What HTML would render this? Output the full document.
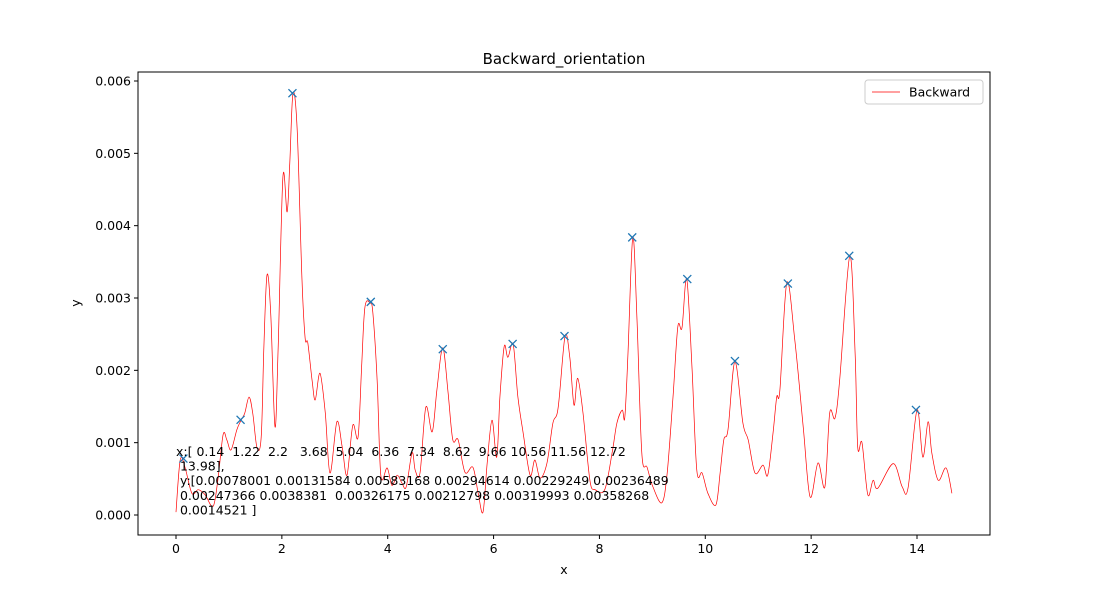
<!DOCTYPE html>
<html><head><meta charset="utf-8"><style>
body{margin:0;background:#fff;}
svg text{font-family:"DejaVu Sans","Liberation Sans",sans-serif;}
</style></head><body>
<svg id="chart" width="1100" height="600" xmlns="http://www.w3.org/2000/svg">
<rect x="0" y="0" width="1100" height="600" fill="#fff"/>
<g id="plot"></g>
</svg>
<script>
const lineX=[0.00,0.08,0.17,0.30,0.42,0.55,0.70,0.79,0.89,0.96,1.04,1.15,1.23,1.30,1.38,1.45,1.53,1.61,1.66,1.72,1.79,1.87,1.93,2.02,2.10,2.15,2.21,2.29,2.38,2.44,2.49,2.57,2.63,2.72,2.82,2.91,3.04,3.14,3.23,3.34,3.44,3.51,3.57,3.67,3.72,3.80,3.87,3.99,4.08,4.18,4.27,4.35,4.46,4.52,4.61,4.72,4.84,4.93,5.04,5.14,5.23,5.33,5.46,5.61,5.71,5.80,5.88,5.97,6.06,6.12,6.20,6.27,6.37,6.46,6.56,6.69,6.78,6.88,7.01,7.12,7.22,7.35,7.44,7.52,7.59,7.69,7.82,7.92,8.10,8.24,8.33,8.43,8.48,8.54,8.63,8.71,8.80,8.90,9.01,9.18,9.28,9.39,9.48,9.56,9.65,9.75,9.84,9.94,10.05,10.20,10.28,10.35,10.43,10.56,10.71,10.81,10.94,11.09,11.18,11.28,11.35,11.41,11.54,11.69,11.85,11.98,12.13,12.26,12.35,12.45,12.54,12.73,12.83,12.88,12.96,13.07,13.17,13.26,13.55,13.72,13.83,14.00,14.11,14.21,14.28,14.40,14.55,14.66];
const lineY=[0.04,0.76,0.66,0.30,0.35,0.28,0.12,0.48,1.11,1.04,0.90,1.18,1.31,1.41,1.63,1.41,0.93,1.08,2.33,3.32,2.79,1.22,2.33,4.67,4.19,4.87,5.83,5.32,3.25,2.45,2.38,1.87,1.59,1.96,1.41,0.58,1.29,0.94,0.55,1.24,1.08,2.10,2.88,2.93,2.79,1.87,0.55,0.65,0.41,0.55,0.44,0.39,0.86,0.62,0.58,1.49,1.15,1.73,2.31,1.69,1.04,1.04,0.59,0.66,0.30,0.04,0.72,1.31,0.80,1.63,2.33,2.18,2.36,1.63,1.13,0.55,0.76,0.51,0.72,1.27,1.48,2.47,2.18,1.52,1.89,1.41,0.48,0.35,0.35,0.86,1.27,1.45,1.35,2.24,3.84,2.70,0.86,0.66,0.39,0.17,0.58,1.63,2.60,2.59,3.26,2.01,0.62,0.58,0.30,0.14,0.58,1.04,1.18,2.12,1.27,1.04,0.58,0.69,0.55,1.13,1.63,1.73,3.21,2.43,1.22,0.25,0.72,0.39,1.41,1.34,1.87,3.58,2.24,0.94,1.00,0.28,0.48,0.37,0.71,0.39,0.37,1.45,0.80,1.29,0.86,0.48,0.65,0.30];
const peakX=[0.14,1.22,2.2,3.68,5.04,6.36,7.34,8.62,9.66,10.56,11.56,12.72,13.98];
const peakY=[0.00078001,0.00131584,0.00583168,0.00294614,0.00229249,0.00236489,0.00247366,0.0038381,0.00326175,0.00212798,0.00319993,0.00358268,0.0014521];
const xTicks=[0,2,4,6,8,10,12,14];
const yTicks=[0,0.001,0.002,0.003,0.004,0.005,0.006];
const yTickLabels=["0.000","0.001","0.002","0.003","0.004","0.005","0.006"];
const annotation=["x:[ 0.14  1.22  2.2   3.68  5.04  6.36  7.34  8.62  9.66 10.56 11.56 12.72"," 13.98],"," y:[0.00078001 0.00131584 0.00583168 0.00294614 0.00229249 0.00236489"," 0.00247366 0.0038381  0.00326175 0.00212798 0.00319993 0.00358268"," 0.0014521 ]"];

const L=138,R=990,T=72,B=535;
const sx=v=>176+v*(917-176)/14;
const sy=v=>515-v*(515-81)/0.006;
const NS="http://www.w3.org/2000/svg";
const g=document.getElementById('plot');
function mk(tag,attrs,parent){const e=document.createElementNS(NS,tag);for(const k in attrs)e.setAttribute(k,attrs[k]);(parent||g).appendChild(e);return e;}

// smooth line (Catmull-Rom)
const P=lineX.map((x,i)=>[sx(x),sy(lineY[i]*0.001)]);
let d='M'+P[0][0].toFixed(1)+','+P[0][1].toFixed(1);
for(let i=0;i<P.length-1;i++){
 const p0=P[Math.max(0,i-1)],p1=P[i],p2=P[i+1],p3=P[Math.min(P.length-1,i+2)];
 const c1=[p1[0]+(p2[0]-p0[0])/6,p1[1]+(p2[1]-p0[1])/6];
 const c2=[p2[0]-(p3[0]-p1[0])/6,p2[1]-(p3[1]-p1[1])/6];
 d+=` C${c1[0].toFixed(1)},${c1[1].toFixed(1)} ${c2[0].toFixed(1)},${c2[1].toFixed(1)} ${p2[0].toFixed(1)},${p2[1].toFixed(1)}`;
}
const ln=mk('path',{d:d,fill:'none',stroke:'red','stroke-width':0.7});



// markers
peakX.forEach((x,i)=>{const cx=sx(x),cy=sy(peakY[i]);
 const m=mk('path',{d:`M${cx-4},${cy-4}L${cx+4},${cy+4}M${cx-4},${cy+4}L${cx+4},${cy-4}`,stroke:'#1f77b4','stroke-width':1.3});
 
 
});

// annotation
annotation.forEach((t,i)=>{const e=mk('text',{x:176,y:456+i*14.6,'font-size':12.5,'xml:space':'preserve'});e.style.whiteSpace='pre';e.textContent=t;
 
 
});

// frame
const fr=mk('rect',{x:L,y:T,width:R-L,height:B-T,fill:'none',stroke:'#000','stroke-width':1});



xTicks.forEach(v=>{const x=sx(v);
 const t=mk('line',{x1:x,x2:x,y1:B,y2:B+4,stroke:'#000'});
 
 
 const l=mk('text',{x:x,y:B+18,'font-size':12.5,'text-anchor':'middle'});l.textContent=String(v);
 
 
});
yTicks.forEach((v,i)=>{const y=sy(v);
 const t=mk('line',{x1:L-4,x2:L,y1:y,y2:y,stroke:'#000'});
 
 
 const l=mk('text',{x:L-7,y:y+4.5,'font-size':12.5,'text-anchor':'end'});l.textContent=yTickLabels[i];
 
 
});

const title=mk('text',{x:564,y:64,'font-size':15,'text-anchor':'middle'});title.textContent='Backward_orientation';


const xl=mk('text',{x:564,y:574,'font-size':12.5,'text-anchor':'middle'});xl.textContent='x';


const yl=mk('text',{x:80,y:303,'font-size':12.5,'text-anchor':'middle',transform:'rotate(-90 80 303)'});yl.textContent='y';



// legend
const lg=mk('g',{});


mk('rect',{x:865,y:80,width:118,height:24,rx:3,fill:'#fff',stroke:'#ccc'},lg);
const ls=mk('line',{x1:872,x2:900,y1:92,y2:92,stroke:'red','stroke-width':0.7},lg);


const lt=mk('text',{x:909,y:96.5,'font-size':12.5},lg);lt.textContent='Backward';


</script>
</body></html>
